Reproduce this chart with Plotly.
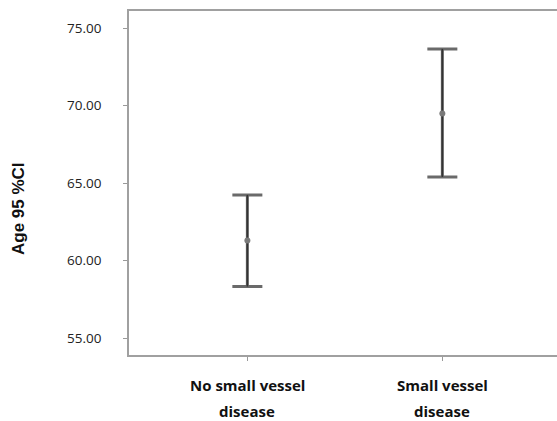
import plotly.graph_objects as go

categories = ["No small vessel disease", "Small vessel disease"]
label_lines = [["No small vessel", "disease"], ["Small vessel", "disease"]]
mean_age = [61.29, 69.48]
ci_lower = [58.32, 65.39]
ci_upper = [64.23, 73.65]
y_ticks = [55, 60, 65, 70, 75]
y_title = "Age 95 %CI"

xpos = list(range(len(categories)))
err_plus = [u - m for u, m in zip(ci_upper, mean_age)]
err_minus = [m - l for m, l in zip(mean_age, ci_lower)]

fig = go.Figure()
# caps (thicker, gray)
fig.add_trace(go.Scatter(
    x=xpos, y=mean_age, mode="markers",
    marker=dict(size=0.1, color="rgba(0,0,0,0)"),
    error_y=dict(type="data", symmetric=False, array=err_plus, arrayminus=err_minus,
                 color="#6a6a6a", thickness=3, width=15),
    hoverinfo="skip", showlegend=False))
# stems (thin, dark) + mean marker
fig.add_trace(go.Scatter(
    x=xpos, y=mean_age, mode="markers",
    marker=dict(size=6, color="#7a7a7a"),
    error_y=dict(type="data", symmetric=False, array=err_plus, arrayminus=err_minus,
                 color="#333333", thickness=1.6, width=0),
    showlegend=False))

for i, lines in enumerate(label_lines):
    for j, line in enumerate(lines):
        fig.add_annotation(
            x=xpos[i], xref="x", y=0, yref="paper", yanchor="middle",
            yshift=-30 - 26 * j, text="<b>%s</b>" % line, showarrow=False,
            borderpad=0,
            font=dict(family="Open Sans", size=15, color="#111111"))

fig.add_annotation(
    x=-0.2593, xref="paper", y=0.4244, yref="paper",
    xanchor="center", yanchor="middle", textangle=-90,
    text="<b>%s</b>" % y_title, showarrow=False,
    font=dict(family="Liberation Sans", size=17, color="#111111"))

fig.update_layout(
    width=557, height=421,
    margin=dict(l=129, r=0, t=11, b=66),
    paper_bgcolor="white", plot_bgcolor="white",
    xaxis=dict(range=[-0.607, 1.588], tickvals=xpos, showticklabels=False,
               ticks="outside", ticklen=4, tickwidth=1, tickcolor="#999999",
               showline=True, linecolor="#a0a0a0", linewidth=1.5, mirror=True,
               showgrid=False, zeroline=False),
    yaxis=dict(range=[53.903, 76.097], tickvals=y_ticks,
               ticktext=["%.2f" % v for v in y_ticks],
               ticks="outside", ticklen=4, tickwidth=1, tickcolor="#999999",
               ticklabelstandoff=19,
               showline=True, linecolor="#a0a0a0", linewidth=1.5, mirror=False,
               showgrid=False, zeroline=False,
               tickfont=dict(family="Open Sans", size=13.5, color="#222222")),
)

fig.write_html("out.html", config={"displayModeBar": False},
               post_script="document.body.style.margin='0';document.body.style.overflow='hidden';")
